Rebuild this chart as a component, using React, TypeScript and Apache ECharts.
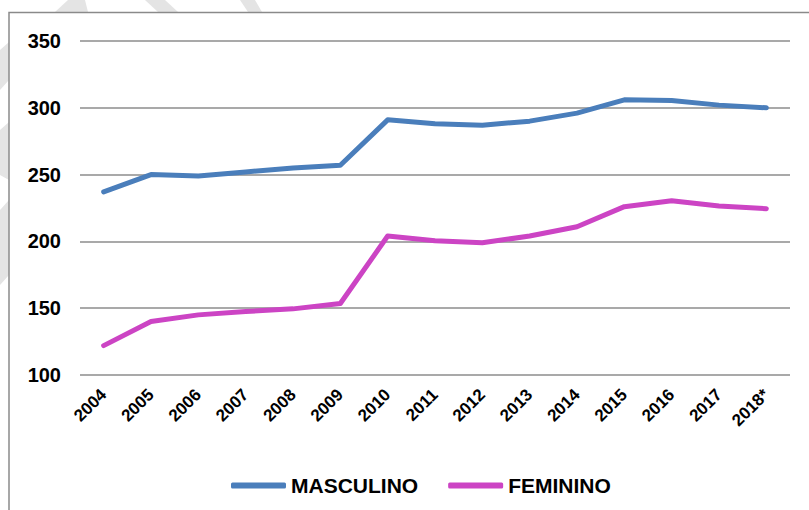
import React, { useEffect, useRef } from "react";
import * as echarts from "echarts";

const years = ["2004", "2005", "2006", "2007", "2008", "2009", "2010", "2011", "2012", "2013", "2014", "2015", "2016", "2017", "2018*"];
const masculino = [237, 250, 249, 252, 255, 257, 291, 288, 287, 290, 296, 306, 305.5, 302, 300];
const feminino = [122, 140, 145, 147.5, 149.5, 153.5, 204, 200.5, 199, 204, 211, 226, 230.5, 226.5, 224.5];
const seriesNames = ["MASCULINO", "FEMININO"];
const yTicks = { min: 100, max: 350, interval: 50 };

export default function App() {
  const ref = useRef<HTMLDivElement>(null);
  useEffect(() => {
    if (!ref.current) return;
    const chart = echarts.init(ref.current, null, { renderer: "svg" });
    const font = "'Liberation Sans', Arial, sans-serif";
    chart.setOption({
      animation: false,
      backgroundColor: "#ffffff",
      grid: { left: 80, right: 19, top: 41, bottom: 135 },
      graphic: [
        { type: "polygon", shape: { points: [[0, 50], [9, 42], [9, 80], [0, 90]] }, style: { fill: "#e4e4e4" }, z: 0 },
        { type: "polygon", shape: { points: [[0, 130], [9, 122], [9, 180], [0, 175]] }, style: { fill: "#e4e4e4" }, z: 0 },
        { type: "polygon", shape: { points: [[0, 210], [9, 200], [9, 275], [0, 285]] }, style: { fill: "#e4e4e4" }, z: 0 },
        { type: "polygon", shape: { points: [[55, 12], [68, 0], [85, 0], [88, 12]] }, style: { fill: "#e4e4e4" }, z: 0 },
        { type: "polygon", shape: { points: [[145, 0], [165, 0], [178, 12], [158, 12]] }, style: { fill: "#e4e4e4" }, z: 0 },
        { type: "polygon", shape: { points: [[240, 0], [255, 0], [262, 12], [248, 12]] }, style: { fill: "#e4e4e4" }, z: 0 },
        { type: "polyline", shape: { points: [[9, 512], [9, 12.5], [812, 12.5]] }, style: { stroke: "#8a8a8a", lineWidth: 1.5, fill: null }, z: 1 },
      ],
      legend: {
        left: 226,
        top: 470,
        itemGap: 30,
        itemWidth: 55,
        itemHeight: 6,
        icon: "roundRect",
        data: seriesNames,
        textStyle: { fontFamily: font, fontWeight: "bold", fontSize: 21, color: "#000", padding: [0, 0, 0, 0] },
      },
      xAxis: {
        type: "category",
        data: years,
        boundaryGap: true,
        axisLine: { show: false },
        axisTick: { show: false },
        axisLabel: {
          rotate: 45,
          margin: 17,
          interval: 0,
          fontFamily: font,
          fontWeight: "bold",
          fontSize: 17,
          color: "#000",
        },
      },
      yAxis: {
        type: "value",
        min: yTicks.min,
        max: yTicks.max,
        interval: yTicks.interval,
        axisLine: { show: false },
        axisTick: { show: false },
        axisLabel: { margin: 19, fontFamily: font, fontWeight: "bold", fontSize: 20, color: "#000" },
        splitLine: { lineStyle: { color: "#8c8c8c", width: 1.5 } },
      },
      series: [
        {
          name: seriesNames[0],
          type: "line",
          data: masculino,
          symbol: "none",
          color: "#4A7EBB",
          lineStyle: { width: 5, color: "#4A7EBB", cap: "round", join: "round" },
        },
        {
          name: seriesNames[1],
          type: "line",
          data: feminino,
          symbol: "none",
          color: "#CC44C4",
          lineStyle: { width: 5, color: "#CC44C4", cap: "round", join: "round" },
        },
      ],
    });
    return () => chart.dispose();
  }, []);
  return <div ref={ref} style={{ position: "fixed", left: 0, top: 0, width: 809, height: 510 }} />;
}
